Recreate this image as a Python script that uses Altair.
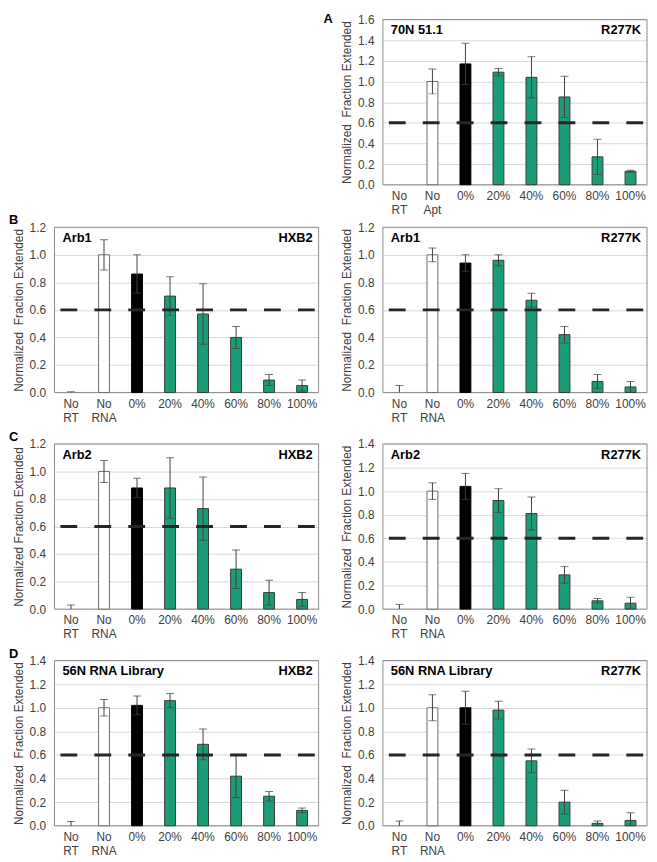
import altair as alt
import pandas as pd

cats_apt = ["No RT", "No Apt", "0%", "20%", "40%", "60%", "80%", "100%"]
cats_rna = ["No RT", "No RNA", "0%", "20%", "40%", "60%", "80%", "100%"]
bar_kind = ["none", "ctrl", "zero", "green", "green", "green", "green", "green"]

a_vals = [0.0, 1.00, 1.17, 1.09, 1.04, 0.85, 0.27, 0.13]
a_errs = [0.01, 0.12, 0.20, 0.035, 0.20, 0.20, 0.17, 0.01]
b_hxb2_vals = [0.0, 1.00, 0.86, 0.70, 0.57, 0.40, 0.09, 0.05]
b_hxb2_errs = [0.005, 0.11, 0.14, 0.14, 0.22, 0.08, 0.04, 0.04]
b_r277k_vals = [0.0, 1.00, 0.94, 0.96, 0.67, 0.42, 0.08, 0.04]
b_r277k_errs = [0.05, 0.05, 0.06, 0.04, 0.05, 0.06, 0.05, 0.04]
c_hxb2_vals = [0.0, 1.00, 0.88, 0.88, 0.73, 0.29, 0.12, 0.07]
c_hxb2_errs = [0.03, 0.08, 0.07, 0.22, 0.23, 0.14, 0.09, 0.05]
c_r277k_vals = [0.0, 1.00, 1.04, 0.92, 0.81, 0.29, 0.07, 0.05]
c_r277k_errs = [0.04, 0.07, 0.11, 0.10, 0.14, 0.07, 0.02, 0.05]
d_hxb2_vals = [0.0, 1.00, 1.02, 1.06, 0.69, 0.42, 0.25, 0.13]
d_hxb2_errs = [0.035, 0.07, 0.08, 0.06, 0.13, 0.18, 0.04, 0.02]
d_r277k_vals = [0.0, 1.00, 1.00, 0.98, 0.55, 0.20, 0.02, 0.045]
d_r277k_errs = [0.04, 0.11, 0.14, 0.075, 0.10, 0.10, 0.02, 0.065]

threshold = 0.6
title_dbl = "Normalized\u00a0 Fraction Extended"
title_sgl = "Normalized Fraction Extended"

W = 267
H = 167
GREEN = "#1b9e77"
DARK = "#404040"
FRAME = "#8c8c8c"


def panel(cats, vals, errs, ymax, left_txt, right_txt, ytitle, letter, letter_dx, squeeze=0):
    df = pd.DataFrame({"cat": cats, "v": vals, "e": errs, "kind": bar_kind})
    df["lo"] = df["v"] - df["e"]
    df["hi"] = df["v"] + df["e"]
    ticks = [round(i * 0.2, 1) for i in range(int(round(ymax / 0.2)) + 1)]
    yscale = alt.Scale(domain=[0, ymax], nice=False, range=[H, 0])
    yaxis = alt.Axis(values=ticks, format=".1f", grid=True, domain=False, ticks=False,
                     labelPadding=9, titlePadding=4)
    xaxis_kw = dict(labelAngle=0, labelExpr="split(datum.label, ' ')",
                    domain=False, ticks=False, grid=False,
                    labelPadding=6, labelLineHeight=14)
    if squeeze:
        xaxis_kw["offset"] = squeeze
    xenc = alt.X("cat:N", sort=cats, title=None,
                 scale=alt.Scale(paddingInner=0, paddingOuter=0),
                 axis=alt.Axis(**xaxis_kw))
    one = alt.Data(values=[{"t": 0}])

    frame = alt.Chart(one).mark_rect(fill="transparent", stroke=FRAME, strokeWidth=1).encode(
        x=alt.value(0), x2=alt.value(W), y=alt.value(0), y2=alt.value(H))
    bars = alt.Chart(df).mark_bar(size=11, strokeWidth=1).encode(
        x=xenc,
        y=alt.Y("v:Q", scale=yscale, axis=yaxis, title=ytitle),
        fill=alt.Fill("kind:N", legend=None,
                      scale=alt.Scale(domain=["none", "ctrl", "zero", "green"],
                                      range=["transparent", "white", "black", GREEN])),
        stroke=alt.Stroke("kind:N", legend=None,
                          scale=alt.Scale(domain=["none", "ctrl", "zero", "green"],
                                          range=["transparent", "#6b6b6b", "black", "#3a3a3a"])),
    )
    err = alt.Chart(df).mark_rule(color=DARK, strokeWidth=1, clip=True).encode(
        x=xenc,
        y=alt.Y("lo:Q", scale=yscale, axis=yaxis, title=ytitle),
        y2="hi:Q",
    )
    cap_hi = alt.Chart(df).mark_tick(color=DARK, thickness=1, size=8, clip=True).encode(
        x=xenc, y=alt.Y("hi:Q", scale=yscale, axis=yaxis, title=ytitle))
    cap_lo = alt.Chart(df).mark_tick(color=DARK, thickness=1, size=8, clip=True).encode(
        x=xenc, y=alt.Y("lo:Q", scale=yscale, axis=yaxis, title=ytitle))
    ref = alt.Chart(alt.Data(values=[{"ref": threshold}])).mark_rule(
        color="#262626", strokeWidth=3, strokeDash=[17, 17.3]).encode(
        y=alt.Y("ref:Q", scale=yscale, axis=yaxis, title=ytitle),
        x=alt.value(6), x2=alt.value(W))
    ltxt = alt.Chart(one).mark_text(align="left", baseline="middle", fontSize=13,
                                    fontWeight="bold", color="black").encode(
        x=alt.value(8), y=alt.value(11), text=alt.value(left_txt))
    rtxt = alt.Chart(one).mark_text(align="right", baseline="middle", fontSize=13,
                                    fontWeight="bold", color="black").encode(
        x=alt.value(W - 6), y=alt.value(11), text=alt.value(right_txt))
    layers = [frame, bars, err, cap_hi, cap_lo, ref, ltxt, rtxt]
    if letter:
        dy = -6 if letter == "A" else -13
        lt = alt.Chart(one).mark_text(align="left", baseline="top", fontSize=13,
                                      fontWeight="bold", color="black").encode(
            x=alt.value(letter_dx), y=alt.value(dy), text=alt.value(letter))
        layers.append(lt)
    return alt.layer(*layers).properties(
        width=W, height=H - squeeze, view=alt.ViewBackground(stroke="transparent"))


SQ = 9
blank = alt.Chart(alt.Data(values=[{"t": 0}])).mark_point(opacity=0).encode(
    x=alt.value(0), y=alt.value(0)).properties(
    width=W, height=H - SQ, view=alt.ViewBackground(stroke="transparent"))

pA = panel(cats_apt, a_vals, a_errs, 1.6, "70N 51.1", "R277K", title_dbl, "A", -60, squeeze=SQ)
pBl = panel(cats_rna, b_hxb2_vals, b_hxb2_errs, 1.2, "Arb1", "HXB2", title_dbl, "B", -46)
pBr = panel(cats_rna, b_r277k_vals, b_r277k_errs, 1.2, "Arb1", "R277K", title_dbl, None, 0)
pCl = panel(cats_rna, c_hxb2_vals, c_hxb2_errs, 1.2, "Arb2", "HXB2", title_sgl, "C", -46)
pCr = panel(cats_rna, c_r277k_vals, c_r277k_errs, 1.4, "Arb2", "R277K", title_dbl, None, 0)
pDl = panel(cats_rna, d_hxb2_vals, d_hxb2_errs, 1.4, "56N RNA Library", "HXB2", title_dbl, "D", -46)
pDr = panel(cats_rna, d_r277k_vals, d_r277k_errs, 1.4, "56N RNA Library", "R277K", title_dbl, None, 0)

chart = alt.concat(
    blank, pA, pBl, pBr, pCl, pCr, pDl, pDr,
    columns=2, bounds="flush", spacing=alt.RowColnumber(row=52, column=65)
).properties(
    padding=0
).configure(font="Liberation Sans").configure_view(
    stroke="transparent"
).configure_axis(
    labelFontSize=12, labelColor=DARK, titleFontSize=12, titleColor=DARK,
    titleFontWeight="normal", gridColor="#d9d9d9", gridWidth=1
)

chart.save("out.html", embed_options={"renderer": "svg", "actions": False})
